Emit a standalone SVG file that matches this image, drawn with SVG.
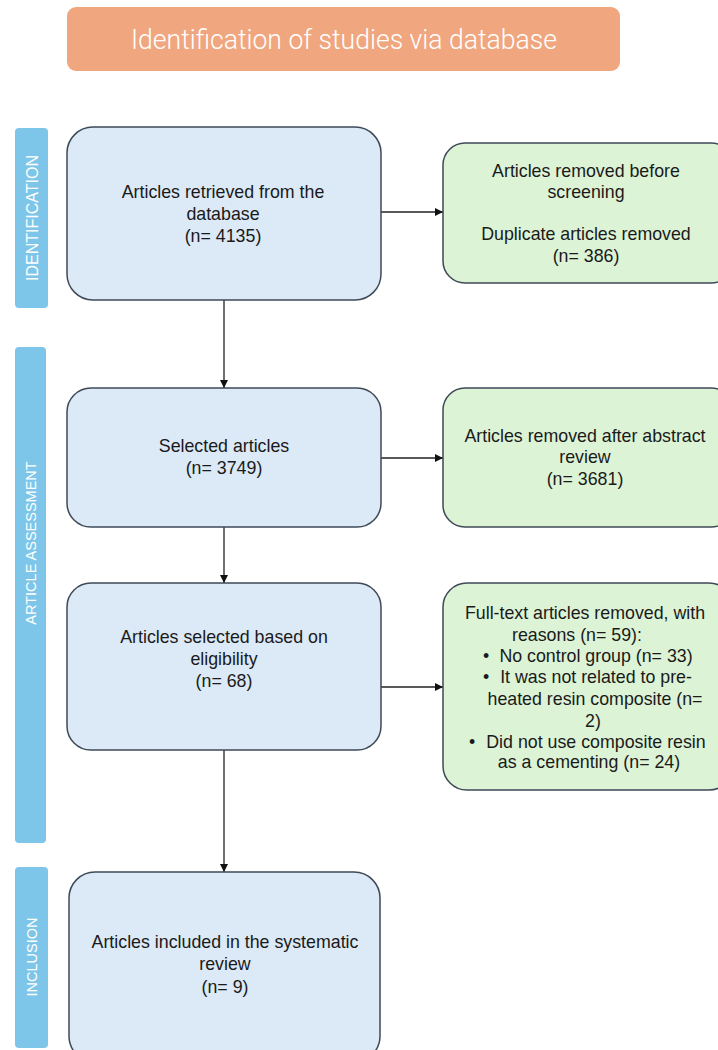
<svg xmlns="http://www.w3.org/2000/svg" width="718" height="1050" viewBox="0 0 718 1050">
<style>
.bg{fill:#ffffff}
.hdr{fill:#F0A77F}
.side{fill:#7EC6E9}
.blue{fill:#DCE9F6;stroke:#3E4A57;stroke-width:1.5}
.green{fill:#DDF3D6;stroke:#3E4A57;stroke-width:1.5}
.t{font-family:"Liberation Sans",Arial,sans-serif;font-size:17.8px;fill:#1a1a1a;text-anchor:middle}
.st{font-family:"Liberation Sans",Arial,sans-serif;font-size:14.5px;fill:#ffffff;text-anchor:middle}
.ht{font-family:"Roboto","Open Sans",sans-serif;font-weight:300;font-size:27px;fill:#ffffff;text-anchor:middle}
.c{stroke:#222;stroke-width:1.3;fill:none}
</style>
<defs>
<marker id="ah" viewBox="0 0 10 10" refX="10" refY="5" markerWidth="8" markerHeight="8" markerUnits="userSpaceOnUse" orient="auto">
<path d="M0,0 L10,5 L0,10 z" fill="#111"/>
</marker>
</defs>
<rect class="bg" x="0" y="0" width="718" height="1050"/>

<g id="header">
<rect class="hdr" x="67" y="7" width="553" height="64" rx="9"/>
<text class="ht" x="344" y="49" textLength="426" lengthAdjust="spacingAndGlyphs">Identification of studies via database</text>
</g>

<g id="phase-identification">
<rect class="side" x="15" y="128" width="33" height="180" rx="4"/>
<text class="st" style="font-size:16px" transform="translate(37.5,218) rotate(-90)">IDENTIFICATION</text>
</g>
<g id="phase-assessment">
<rect class="side" x="15" y="347" width="31" height="496" rx="4"/>
<text class="st" transform="translate(36,543) rotate(-90)">ARTICLE ASSESSMENT</text>
</g>
<g id="phase-inclusion">
<rect class="side" x="15" y="867" width="33" height="181" rx="4"/>
<text class="st" transform="translate(37,957) rotate(-90)">INCLUSION</text>
</g>

<g id="connectors">
<line class="c" x1="381" y1="212" x2="443" y2="212" marker-end="url(#ah)"/>
<line class="c" x1="224" y1="300" x2="224" y2="388" marker-end="url(#ah)"/>
<line class="c" x1="381" y1="458" x2="443" y2="458" marker-end="url(#ah)"/>
<line class="c" x1="224" y1="527" x2="224" y2="583" marker-end="url(#ah)"/>
<line class="c" x1="381" y1="687" x2="443" y2="687" marker-end="url(#ah)"/>
<line class="c" x1="224" y1="750" x2="224" y2="872" marker-end="url(#ah)"/>
</g>

<g id="n-retrieved">
<rect class="blue" x="67" y="127" width="314" height="173" rx="26"/>
<text class="t" x="223" y="198">Articles retrieved from the</text>
<text class="t" x="223" y="220">database</text>
<text class="t" x="223" y="242">(n= 4135)</text>
</g>

<g id="n-removed-before">
<rect class="green" x="443" y="143" width="290" height="140" rx="22"/>
<text class="t" x="586" y="177">Articles removed before</text>
<text class="t" x="586" y="198">screening</text>
<text class="t" x="586" y="240">Duplicate articles removed</text>
<text class="t" x="586" y="262">(n= 386)</text>
</g>

<g id="n-selected">
<rect class="blue" x="67" y="388" width="314" height="139" rx="24"/>
<text class="t" x="224" y="452">Selected articles</text>
<text class="t" x="224" y="474">(n= 3749)</text>
</g>

<g id="n-removed-abstract">
<rect class="green" x="443" y="388" width="290" height="139" rx="22"/>
<text class="t" x="585" y="442">Articles removed after abstract</text>
<text class="t" x="585" y="463">review</text>
<text class="t" x="585" y="485">(n= 3681)</text>
</g>

<g id="n-eligibility">
<rect class="blue" x="67" y="583" width="314" height="167" rx="24"/>
<text class="t" x="224" y="643">Articles selected based on</text>
<text class="t" x="224" y="665">eligibility</text>
<text class="t" x="224" y="687">(n= 68)</text>
</g>

<g id="n-removed-fulltext">
<rect class="green" x="443" y="583" width="290" height="207" rx="24"/>
<text class="t" x="585" y="619">Full-text articles removed, with</text>
<text class="t" x="577" y="641">reasons (n= 59):</text>
<text class="t" x="486" y="662">•</text>
<text class="t" x="596" y="662">No control group (n= 33)</text>
<text class="t" x="486" y="683">•</text>
<text class="t" x="596" y="683">It was not related to pre-</text>
<text class="t" x="595" y="705">heated resin composite (n=</text>
<text class="t" x="593" y="727">2)</text>
<text class="t" x="472" y="748">•</text>
<text class="t" x="596" y="748">Did not use composite resin</text>
<text class="t" x="589" y="768">as a cementing (n= 24)</text>
</g>

<g id="n-included">
<rect class="blue" x="69" y="872" width="311" height="190" rx="26"/>
<text class="t" x="225" y="948">Articles included in the systematic</text>
<text class="t" x="225" y="970">review</text>
<text class="t" x="225" y="993">(n= 9)</text>
</g>
</svg>
